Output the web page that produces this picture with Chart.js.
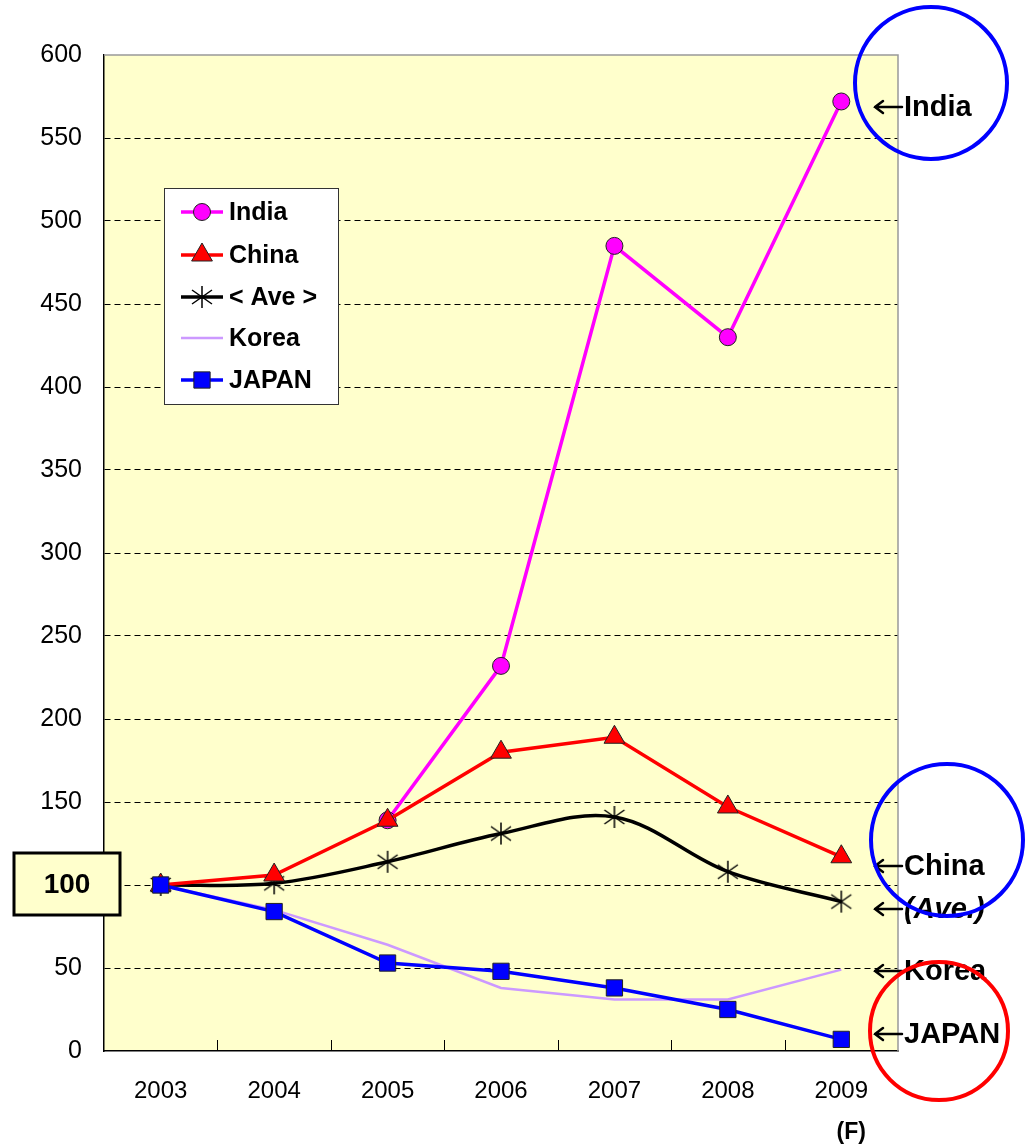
<!DOCTYPE html>
<html lang="en">
<head>
<meta charset="UTF-8">
<title>Growth Index 2003-2009</title>
<script src="https://cdn.jsdelivr.net/npm/chart.js"></script>
<style>
    body { margin: 0; background: white; }
    #wrap { width: 1027px; height: 1147px; }
</style>
</head>
<body>
<div id="wrap"><canvas id="myChart" width="1027" height="1147"></canvas></div>
<script>
    // values (index, 2003 = 100)
    const years = ['2003', '2004', '2005', '2006', '2007', '2008', '2009'];
    const india = [null, null, 139, 232, 485, 430, 572];
    const china = [100, 106, 139, 180, 189, 147, 117];
    const ave   = [100, 101, 114, 131, 141, 108, 90];
    const korea = [100, 85, 64, 38, 31, 31, 49];
    const japan = [100, 84, 53, 48, 38, 25, 7];
    const seriesNames = ['India', 'China', '< Ave >', 'Korea', 'JAPAN'];
    const yMin = 0, yMax = 600, yStep = 50;

    const FONT = 'Arial, "Liberation Sans", sans-serif';

    // asterisk marker for the average line
    function makeAsterisk() {
        const c = document.createElement('canvas');
        c.width = 24; c.height = 24;
        const g = c.getContext('2d');
        g.strokeStyle = '#000';
        g.lineWidth = 1.5;
        g.beginPath();
        g.moveTo(12, 1); g.lineTo(12, 23);
        g.moveTo(2, 5); g.lineTo(22, 19);
        g.moveTo(2, 19); g.lineTo(22, 5);
        g.stroke();
        return c;
    }
    const asterisk = makeAsterisk();

    function drawMarker(ctx, ds, x, y) {
        const style = ds.pointStyle;
        if (!style || ds.pointRadius === 0) return;
        const r = ds.pointRadius;
        ctx.save();
        ctx.fillStyle = ds.pointBackgroundColor;
        ctx.strokeStyle = ds.pointBorderColor;
        ctx.lineWidth = ds.pointBorderWidth;
        ctx.beginPath();
        if (style === 'circle') {
            ctx.arc(x, y, r, 0, Math.PI * 2);
        } else if (style === 'triangle') {
            const h = r * 1.5;
            ctx.moveTo(x, y - r);
            ctx.lineTo(x + h / Math.sqrt(3), y - r + h);
            ctx.lineTo(x - h / Math.sqrt(3), y - r + h);
            ctx.closePath();
        } else if (style === 'rect') {
            const s = r * Math.SQRT1_2;
            ctx.rect(x - s, y - s, 2 * s, 2 * s);
        } else {
            ctx.drawImage(style, x - style.width / 2, y - style.height / 2);
            ctx.restore();
            return;
        }
        ctx.fill();
        ctx.stroke();
        ctx.restore();
    }

    function drawArrow(ctx, x1, x2, y) {
        ctx.save();
        ctx.strokeStyle = '#000';
        ctx.lineWidth = 2.5;
        ctx.lineCap = 'round';
        ctx.beginPath();
        ctx.moveTo(x2, y); ctx.lineTo(x1, y);
        ctx.moveTo(x1 + 8, y - 6); ctx.lineTo(x1, y); ctx.lineTo(x1 + 8, y + 6);
        ctx.stroke();
        ctx.restore();
    }

    const decor = {
        id: 'decor',
        beforeDraw(chart) {
            const { ctx, chartArea: a } = chart;
            ctx.save();
            ctx.fillStyle = '#FFFFCC';
            ctx.fillRect(a.left, a.top, a.right - a.left, a.bottom - a.top);
            ctx.restore();
        },
        afterDraw(chart) {
            const { ctx, chartArea: a } = chart;
            ctx.save();

            // top and right frame
            ctx.strokeStyle = '#999';
            ctx.lineWidth = 1.5;
            ctx.beginPath();
            ctx.moveTo(a.left, a.top); ctx.lineTo(a.right, a.top); ctx.lineTo(a.right, a.bottom);
            ctx.stroke();

            // inward category tick marks
            ctx.strokeStyle = '#000';
            ctx.lineWidth = 1;
            const band = (a.right - a.left) / years.length;
            ctx.beginPath();
            for (let i = 1; i < years.length; i++) {
                const x = Math.round(a.left + i * band) + 0.5;
                ctx.moveTo(x, a.bottom); ctx.lineTo(x, a.bottom - 11);
            }
            ctx.stroke();

            // "(F)" under the last year
            ctx.fillStyle = '#000';
            ctx.font = 'bold 23px ' + FONT;
            ctx.textAlign = 'center';
            ctx.textBaseline = 'middle';
            ctx.fillText('(F)', chart.scales.x.getPixelForValue(years.length - 1) + 10, 1133);

            // legend
            const lx = 164, ly = 188, lw = 174, lh = 216;
            ctx.fillStyle = '#fff';
            ctx.fillRect(lx, ly, lw, lh);
            ctx.strokeStyle = '#333';
            ctx.lineWidth = 1;
            ctx.strokeRect(lx + 0.5, ly + 0.5, lw, lh);
            const rows = [212, 255, 297, 338, 380];
            chart.data.datasets.forEach((ds, i) => {
                const y = rows[i];
                ctx.strokeStyle = ds.borderColor;
                ctx.lineWidth = ds.borderWidth;
                ctx.beginPath();
                ctx.moveTo(181, y); ctx.lineTo(223, y);
                ctx.stroke();
                drawMarker(ctx, ds, 202, y);
                ctx.fillStyle = '#000';
                ctx.font = 'bold 25px ' + FONT;
                ctx.textAlign = 'left';
                ctx.textBaseline = 'middle';
                ctx.fillText(ds.label, 229, y + 1);
            });

            // base value box
            ctx.fillStyle = '#FFFFCC';
            ctx.fillRect(14, 853, 106, 62);
            ctx.strokeStyle = '#000';
            ctx.lineWidth = 3;
            ctx.strokeRect(14, 853, 106, 62);
            ctx.fillStyle = '#000';
            ctx.font = 'bold 28px ' + FONT;
            ctx.textAlign = 'center';
            ctx.textBaseline = 'middle';
            ctx.fillText('100', 67, 885);

            // right-hand labels
            const notes = [
                { text: 'India', y: 107, italic: false },
                { text: 'China', y: 866, italic: false },
                { text: '(Ave.)', y: 909, italic: true },
                { text: 'Korea', y: 971, italic: false },
                { text: 'JAPAN', y: 1034, italic: false }
            ];
            notes.forEach(n => {
                drawArrow(ctx, 875, 902, n.y);
                ctx.fillStyle = '#000';
                ctx.textAlign = 'left';
                ctx.textBaseline = 'middle';
                ctx.font = (n.italic ? 'italic ' : '') + 'bold 29px ' + FONT;
                ctx.fillText(n.text, 904, n.y + 1);
            });

            // highlight circles
            const rings = [
                { x: 931, y: 83, r: 76, c: '#0000FF' },
                { x: 947, y: 840, r: 76, c: '#0000FF' },
                { x: 939, y: 1031, r: 69, c: '#FF0000' }
            ];
            rings.forEach(g => {
                ctx.strokeStyle = g.c;
                ctx.lineWidth = 4;
                ctx.beginPath();
                ctx.arc(g.x, g.y, g.r, 0, Math.PI * 2);
                ctx.stroke();
            });
            ctx.restore();
        }
    };

    const ctx = document.getElementById('myChart').getContext('2d');
    const myChart = new Chart(ctx, {
        type: 'line',
        data: {
            labels: years,
            datasets: [{
                label: seriesNames[0],
                data: india,
                borderColor: '#FF00FF',
                borderWidth: 3.5,
                pointStyle: 'circle',
                pointRadius: 8.5,
                pointBackgroundColor: '#FF00FF',
                pointBorderColor: '#222',
                pointBorderWidth: 1,
                order: 2
            }, {
                label: seriesNames[1],
                data: china,
                borderColor: '#FF0000',
                borderWidth: 3.5,
                pointStyle: 'triangle',
                pointRadius: 12,
                pointBackgroundColor: '#FF0000',
                pointBorderColor: '#222',
                pointBorderWidth: 1,
                order: 1
            }, {
                label: seriesNames[2],
                data: ave,
                borderColor: '#000000',
                borderWidth: 3.5,
                tension: 0.35,
                pointStyle: asterisk,
                pointRadius: 11,
                pointBackgroundColor: '#000',
                pointBorderColor: '#000',
                pointBorderWidth: 1,
                order: 3
            }, {
                label: seriesNames[3],
                data: korea,
                borderColor: '#CC99FF',
                borderWidth: 2.5,
                pointRadius: 0,
                pointStyle: false,
                order: 4
            }, {
                label: seriesNames[4],
                data: japan,
                borderColor: '#0000FF',
                borderWidth: 3.5,
                pointStyle: 'rect',
                pointRadius: 11.5,
                pointBackgroundColor: '#0000FF',
                pointBorderColor: '#222',
                pointBorderWidth: 1,
                order: 0
            }]
        },
        options: {
            responsive: false,
            animation: false,
            spanGaps: false,
            layout: { padding: { left: 0, top: 55, right: 129, bottom: 0 } },
            plugins: {
                legend: { display: false },
                tooltip: { enabled: false },
                title: { display: false }
            },
            scales: {
                x: {
                    offset: true,
                    grid: { display: false, drawTicks: false },
                    border: { display: true, color: '#000', width: 1.5 },
                    ticks: { color: '#000', font: { family: FONT, size: 24 }, padding: 26, maxRotation: 0 },
                    afterFit(scale) { scale.height = 96; }
                },
                y: {
                    min: yMin,
                    max: yMax,
                    grid: {
                        drawTicks: false,
                        color: c => (c.tick.value === yMin || c.tick.value === yMax) ? 'rgba(0,0,0,0)' : '#000',
                        lineWidth: 1
                    },
                    border: { display: true, color: '#000', width: 1.5, dash: [6, 4] },
                    ticks: { stepSize: yStep, color: '#000', font: { family: FONT, size: 25 }, padding: 22 },
                    afterFit(scale) { scale.width = 104; }
                }
            }
        },
        plugins: [decor]
    });
</script>
</body>
</html>
